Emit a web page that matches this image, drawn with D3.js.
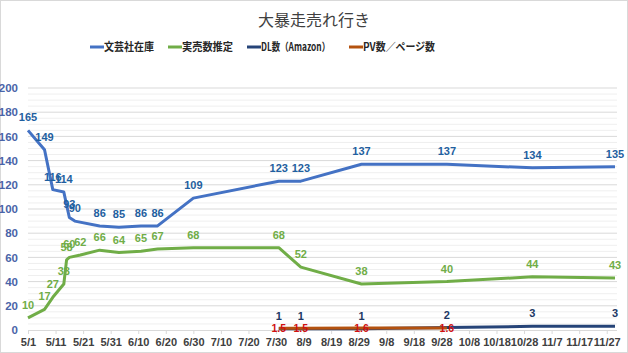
<!DOCTYPE html>
<html><head><meta charset="utf-8">
<script src="https://cdn.jsdelivr.net/npm/d3@7"></script>
<style>body{margin:0;background:#fff}svg{display:block}</style>
</head><body>
<script>
const title = "大暴走売れ行き";
const seriesNames = ["文芸社在庫", "実売数推定", "DL数（Amazon）", "PV数／ページ数"];
const seriesColors = ["#4472C4", "#70AD47", "#264478", "#B4520F"];
const labelColors = ["#1F5FA0", "#70AD47", "#203864", "#D01010"];

const stockDates = ["5/1","5/7","5/10","5/14","5/16","5/18","5/27","6/3","6/11","6/17","6/30","7/31","8/8","8/30","9/30","10/31","11/30"];
const stockValues = [165,149,116,114,93,90,86,85,86,86,109,123,123,137,137,134,135];

const salesDates = ["5/1","5/7","5/10","5/14","5/15","5/16","5/20","5/27","6/3","6/11","6/17","6/30","7/31","8/8","8/30","9/30","10/31","11/30"];
const salesValues = [10,17,27,38,58,60,62,66,64,65,67,68,68,52,38,40,44,43];

const dlDates = ["7/31","8/8","8/30","9/30","10/31","11/30"];
const dlValues = [1,1,1,2,3,3];

const pvDates = ["7/31","8/8","8/30","9/30"];
const pvValues = [1.5,1.5,1.6,1.6];

const xTickLabels = ["5/1","5/11","5/21","5/31","6/10","6/20","6/30","7/10","7/20","7/30","8/9","8/19","8/29","9/8","9/18","9/28","10/8","10/18","10/28","11/7","11/17","11/27"];
const yTicks = [0,20,40,60,80,100,120,140,160,180,200];

const W = 628, H = 353;
const parse = s => { const [m, d] = s.split("/").map(Number); return new Date(2021, m - 1, d); };

const svg = d3.select("body").append("svg").attr("width", W).attr("height", H);
svg.append("rect").attr("x", 0.5).attr("y", 0.5).attr("width", W - 1).attr("height", H - 1)
  .attr("fill", "#fff").attr("stroke", "#D9D9D9");

const x = d3.scaleTime().domain([parse("5/1"), parse("11/30")]).range([28, 615]);
const y = d3.scaleLinear().domain([0, 200]).range([330, 88]);

// minor gridlines
const minor = d3.range(5, 200, 5).filter(v => v % 20 !== 0);
svg.append("g").selectAll("line").data(minor).join("line")
  .attr("x1", 28).attr("x2", 617).attr("y1", d => y(d)).attr("y2", d => y(d))
  .attr("stroke", "#EFEFEF").attr("stroke-width", 1);
// major gridlines
svg.append("g").selectAll("line").data(yTicks.filter(v => v > 0)).join("line")
  .attr("x1", 28).attr("x2", 617).attr("y1", d => y(d)).attr("y2", d => y(d))
  .attr("stroke", "#D9D9D9").attr("stroke-width", 1);

// y axis labels
const yAxis = d3.axisLeft(y).tickValues(yTicks).tickSize(0).tickPadding(0);
const gy = svg.append("g").attr("transform", "translate(18,0)").call(yAxis);
gy.select(".domain").remove();
gy.selectAll("text").attr("font-family", "Liberation Sans, Arial, sans-serif").attr("font-size", 11.5)
  .attr("font-weight", "bold").attr("fill", "#4A64A8");

// x axis
const xAxis = d3.axisBottom(x).tickValues(xTickLabels.map(parse)).tickSize(4).tickPadding(4)
  .tickFormat((d, i) => xTickLabels[i]);
const gx = svg.append("g").attr("transform", "translate(0,330)").call(xAxis);
gx.select(".domain").attr("stroke", "#D9D9D9").attr("d", "M28,0.5H617");
gx.selectAll(".tick line").attr("stroke", "#D9D9D9");
gx.selectAll("text").attr("font-family", "Liberation Sans, Arial, sans-serif").attr("font-size", 11)
  .attr("font-weight", "bold").attr("fill", "#404040").attr("dy", "0.75em");

const series = [
  {dates: stockDates, values: stockValues, fmt: d3.format("d"), pos: "above"},
  {dates: salesDates, values: salesValues, fmt: d3.format("d"), pos: "above"},
  {dates: dlDates, values: dlValues, fmt: d3.format("d"), pos: "above"},
  {dates: pvDates, values: pvValues, fmt: d3.format(".1f"), pos: "center"}
];

const line = d3.line().x(d => x(d.date)).y(d => y(d.value));
series.forEach((s, i) => {
  const pts = s.dates.map((dt, j) => ({date: parse(dt), value: s.values[j]}));
  svg.append("path").datum(pts).attr("d", line).attr("fill", "none")
    .attr("stroke", seriesColors[i]).attr("stroke-width", 3).attr("stroke-linejoin", "round");
});
series.forEach((s, i) => {
  const pts = s.dates.map((dt, j) => ({date: parse(dt), value: s.values[j]}));
  svg.append("g").selectAll("text").data(pts).join("text")
    .attr("x", d => x(d.date))
    .attr("y", d => s.pos === "above" ? y(d.value) - 9 : y(d.value) + 4)
    .attr("text-anchor", "middle")
    .attr("font-family", "Liberation Sans, Arial, sans-serif")
    .attr("font-size", s.pos === "above" ? 11 : 10.5).attr("font-weight", "bold")
    .attr("fill", labelColors[i])
    .text(d => s.fmt(d.value));
});

// title
svg.append("text").attr("x", 314).attr("y", 26).attr("text-anchor", "middle")
  .attr("font-family", "Noto Sans CJK JP, sans-serif").attr("font-size", 16)
  .attr("fill", "#404040").text(title);

// legend
const legendX = [90, 168, 247, 349];
const legendW = [50, 51, 69, 72];
const lg = svg.append("g");
seriesNames.forEach((n, i) => {
  lg.append("line").attr("x1", legendX[i]).attr("x2", legendX[i] + 14)
    .attr("y1", 47).attr("y2", 47).attr("stroke", seriesColors[i]).attr("stroke-width", 3);
  lg.append("text").attr("x", legendX[i] + 14).attr("y", 51)
    .attr("font-family", "Noto Sans CJK JP, sans-serif").attr("font-size", 11).attr("font-weight", "bold")
    .attr("textLength", legendW[i]).attr("lengthAdjust", "spacingAndGlyphs")
    .attr("fill", "#262626").text(n);
});
</script>
</body></html>
